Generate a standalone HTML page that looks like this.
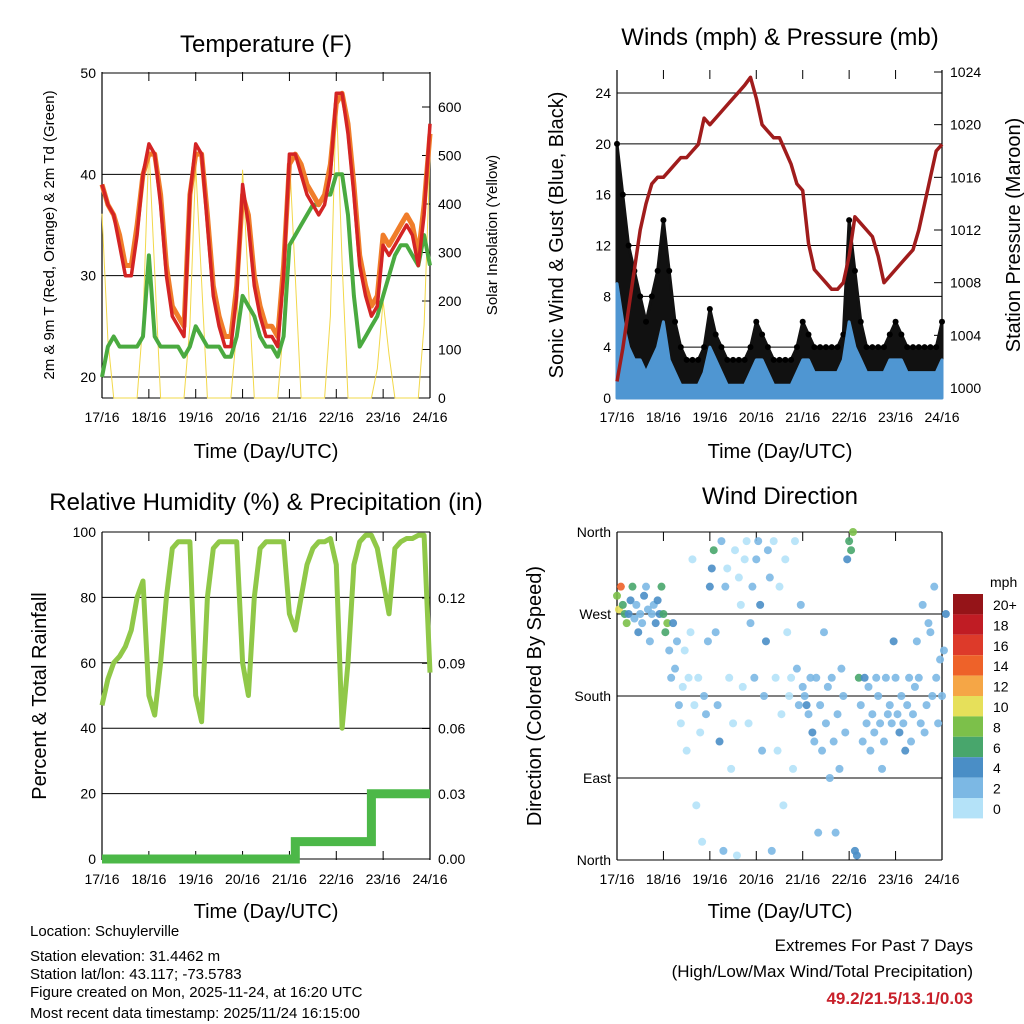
<!DOCTYPE html>
<html><head><meta charset="utf-8"><style>
html,body{margin:0;padding:0;background:#fff}
svg{display:block;font-family:"Liberation Sans",sans-serif}
</style></head><body>
<svg id="c" width="1024" height="1024" viewBox="0 0 1024 1024" xmlns="http://www.w3.org/2000/svg">
<g id="txt">
<text x="266" y="52" font-size="24" text-anchor="middle">Temperature (F)</text>
<text x="780" y="45" font-size="24" text-anchor="middle">Winds (mph) &amp; Pressure (mb)</text>
<text x="266" y="510" font-size="24" text-anchor="middle">Relative Humidity (%) &amp; Precipitation (in)</text>
<text x="780" y="504" font-size="24" text-anchor="middle">Wind Direction</text>
<text x="266" y="458" font-size="20" text-anchor="middle">Time (Day/UTC)</text>
<text x="780" y="458" font-size="20" text-anchor="middle">Time (Day/UTC)</text>
<text x="266" y="918" font-size="20" text-anchor="middle">Time (Day/UTC)</text>
<text x="780" y="918" font-size="20" text-anchor="middle">Time (Day/UTC)</text>
<text transform="translate(54,235) rotate(-90)" font-size="15" text-anchor="middle">2m &amp; 9m T (Red, Orange) &amp; 2m Td (Green)</text>
<text transform="translate(497,235) rotate(-90)" font-size="15" text-anchor="middle">Solar Insolation (Yellow)</text>
<text transform="translate(563,235) rotate(-90)" font-size="20" text-anchor="middle">Sonic Wind &amp; Gust (Blue, Black)</text>
<text transform="translate(1020,235) rotate(-90)" font-size="20" text-anchor="middle">Station Pressure (Maroon)</text>
<text transform="translate(46,696) rotate(-90)" font-size="20" text-anchor="middle">Percent &amp; Total Rainfall</text>
<text transform="translate(541,696) rotate(-90)" font-size="20" text-anchor="middle">Direction (Colored By Speed)</text>
<g font-size="15">
<text x="30" y="936">Location: Schuylerville</text>
<text x="30" y="961">Station elevation: 31.4462 m</text>
<text x="30" y="977" dy="2">Station lat/lon: 43.117; -73.5783</text>
<text x="30" y="997">Figure created on Mon, 2025-11-24, at 16:20 UTC</text>
<text x="30" y="1018">Most recent data timestamp: 2025/11/24 16:15:00</text>
</g>
<text x="973" y="951" font-size="17" text-anchor="end">Extremes For Past 7 Days</text>
<text x="973" y="977" font-size="17" text-anchor="end">(High/Low/Max Wind/Total Precipitation)</text>
<text x="973" y="1004" font-size="17" font-weight="bold" fill="#c8202a" text-anchor="end">49.2/21.5/13.1/0.03</text>
<text x="990" y="587" font-size="14">mph</text>
</g>
</svg>
<script>
const xLabels=["17/16","18/16","19/16","20/16","21/16","22/16","23/16","24/16"];
// 3-hourly samples from 17/16 to 24/16 (57 values)
const temp2m=[39,37,36,33,30,30,34,40,43,42,37,30,26,25,24,38,43,42,35,28,25,23,23,28,39,35,29,26,24,24,23,30,42,42,40,38,37,36,37,40,48,48,44,38,31,28,26,27,33,32,33,34,35,34,31,36,45];
const temp9m=[39,37,36,34,31,31,35,40,42,42,38,31,27,26,25,38,42,42,36,29,26,24,24,29,38,36,30,27,25,25,24,31,41,42,41,39,38,37,38,41,47,48,45,39,32,29,27,28,34,33,34,35,36,35,32,37,44];
const dewpt=[20,23,24,23,23,23,23,24,32,24,23,23,23,23,22,23,25,24,23,23,23,22,22,24,28,27,26,24,23,23,22,24,33,34,35,36,37,37,38,38,40,40,36,28,23,24,25,26,28,30,32,33,33,32,31,34,31];
const solar=[380,120,0,0,0,0,0,160,520,260,0,0,0,0,0,150,480,240,0,0,0,0,0,140,470,230,0,0,0,0,0,150,500,250,0,0,0,0,0,170,620,280,0,0,0,0,0,60,200,90,0,0,0,0,0,150,500];
const windSpd=[9,6,4,3,3,2,3,4,6,3,2,1,1,1,1,2,4,3,2,1,1,1,1,2,3,3,2,1,1,1,1,2,3,3,2,2,2,2,2,3,6,4,3,2,2,2,2,3,3,3,2,2,2,2,2,2,3];
const windGust=[20,16,12,10,8,6,8,10,14,10,6,4,3,3,3,4,7,5,4,3,3,3,3,4,6,5,4,3,3,3,3,4,6,5,4,4,4,4,4,5,14,10,6,4,4,4,4,5,6,5,4,4,4,4,4,4,6];
const pressure=[1000.5,1003,1006,1009,1012,1014,1015.5,1016,1016,1016.5,1017,1017.5,1017.5,1018,1018.5,1020.5,1020,1020.5,1021,1021.5,1022,1022.5,1023,1023.6,1022,1020,1019.5,1019,1019,1018,1017,1015.5,1015,1011,1009,1008.5,1008,1007.5,1007.5,1008,1010,1013,1012.5,1012,1011.5,1010,1008,1008.5,1009,1009.5,1010,1010.5,1012,1014,1016,1018,1018.5];
const rh=[47,55,60,62,65,70,80,85,50,44,60,80,95,97,97,97,50,42,80,95,97,97,97,97,60,50,80,95,97,97,97,97,75,70,80,90,95,97,97,98,90,40,60,90,97,99,99,95,85,75,95,97,98,98,99,99,57];
const precip=[0,0,0,0,0,0,0,0,0,0,0,0,0,0,0,0,0,0,0,0,0,0,0,0,0,0,0,0,0,0,0,0,0,0,0.008,0.008,0.008,0.008,0.008,0.008,0.008,0.008,0.008,0.008,0.008,0.008,0.008,0.03,0.03,0.03,0.03,0.03,0.03,0.03,0.03,0.03,0.03];
const windDir=[[290,275,300],[280,270,260],[270,285,300],[265,280,250],[270,260,290],[300,275,240],[270,280,260],[285,270,300],
[270,250,260],[230,200,260],[210,240,170],[150,190,230],[120,200,250],[330,170,60],[200,140,20],[180,160,240],
[300,320,340],[250,170,130],[350,10,300],[320,200,100],[150,340,5],[310,280,190],[330,350,150],[260,300,200],
[330,350,280],[120,180,240],[340,310,10],[350,200,120],[300,160,60],[330,250,180],[200,100,350],[210,170,280],
[190,180,170],[160,200,140],[130,200,30],[170,120,250],[150,190,90],[200,130,30],[160,100,210],[180,140,330],
[350,340,360],[10,5,200],[170,130,200],[150,190,120],[160,140,200],[180,150,100],[130,200,160],[170,150,240],
[200,160,140],[180,150,120],[170,200,130],[160,190,240],[200,150,280],[140,170,260],[250,180,300],[200,150,220],[180,230,270]];
const cbLabels=["20+","18","16","14","12","10","8","6","4","2","0"];
const cbColors=["#951418","#c01c24","#dd3a2a","#ee6229","#f5a646","#e6e05a","#7cc04a","#48a66c","#4a8ec6","#7cb8e4","#b4e2f8"];
const tempTicks=[20,30,40,50], solarTicks=[0,100,200,300,400,500,600];
const windTicks=[0,4,8,12,16,20,24], presTicks=[1000,1004,1008,1012,1016,1020,1024];
const rhTicks=[0,20,40,60,80,100], prTicks=[0,0.03,0.06,0.09,0.12];
const dirTicks=[360,270,180,90,0], dirNames=["North","West","South","East","North"];

const NS="http://www.w3.org/2000/svg", svg=document.getElementById('c');
function mk(tag,attrs,parent){const e=document.createElementNS(NS,tag);for(const k in attrs)e.setAttribute(k,attrs[k]);(parent||svg).appendChild(e);return e;}
function lin(d0,d1,r0,r1){return v=>r0+(v-d0)/(d1-d0)*(r1-r0);}
function tOf(i){return i*3/24;}
function frame(P,name){
  const g=mk('g',{});
  
  
  xLabels.forEach((l,i)=>{const x=P.x(i);
    mk('line',{x1:x,x2:x,y1:P.b,y2:P.b-9,stroke:'#000','stroke-width':1},g);
    mk('line',{x1:x,x2:x,y1:P.t,y2:P.t+9,stroke:'#000','stroke-width':1},g);
    const t=mk('text',{x:x,y:P.b+24,'font-size':14,'text-anchor':'middle'},g);t.textContent=l;
    
    });
  mk('line',{x1:P.l,x2:P.l,y1:P.t,y2:P.b,stroke:'#000','stroke-width':1.2},g);
  mk('line',{x1:P.r,x2:P.r,y1:P.t,y2:P.b,stroke:'#000','stroke-width':1.2},g);
  return g;}
function hgrid(g,P,ticks,ys,labels,side){
  ticks.forEach((v,i)=>{const y=ys(v);
    mk('line',{x1:P.l,x2:P.r,y1:y,y2:y,stroke:'#000','stroke-width':1},g);
    const t=mk('text',{x:side=='l'?P.l-6:P.r+6,y:y+5,'font-size':14,'text-anchor':side=='l'?'end':'start'},g);t.textContent=labels?labels[i]:v;
    
    });}
function rticks(g,P,ticks,ys,fmt){
  ticks.forEach(v=>{const y=ys(v);
    mk('line',{x1:P.r,x2:P.r-8,y1:y,y2:y,stroke:'#000'},g);
    const t=mk('text',{x:P.r+8,y:y+5,'font-size':14},g);t.textContent=fmt(v);
    
    });}
function poly(arr,xs,ys,st,w,name){
  const p=mk('polyline',{points:arr.map((v,i)=>xs(tOf(i)).toFixed(1)+','+ys(v).toFixed(1)).join(' '),fill:'none',stroke:st,'stroke-width':w,'stroke-linejoin':'round'});
  
  
  return p;}
function band(lo,hi,xs,ys,col,name){
  const pts=hi.map((v,i)=>xs(tOf(i)).toFixed(1)+','+ys(v).toFixed(1));
  for(let i=lo.length-1;i>=0;i--)pts.push(xs(tOf(i)).toFixed(1)+','+ys(lo[i]).toFixed(1));
  const p=mk('polygon',{points:pts.join(' '),fill:col,stroke:col,'stroke-width':3,'stroke-linejoin':'round'});
  
  }
function dots(arr,xs,ys,col,r,name){
  const g=mk('g',{fill:col});
  
  
  arr.forEach((v,i)=>{mk('circle',{cx:xs(tOf(i)),cy:ys(v),r:r},g);});}

// Panel 1 temperature
let P={l:102,r:430,t:72,b:398};P.x=lin(0,7,P.l,P.r);
let g=frame(P,'temperature-panel');
let yT=lin(20,50,377,73), yS=lin(0,600,398,107);
hgrid(g,P,tempTicks,yT,null,'l');
rticks(g,P,solarTicks,yS,v=>v);
mk('line',{x1:P.l,x2:P.r,y1:P.b,y2:P.b,stroke:'#000'},g);
poly(solar,P.x,yS,'#f2d84a',1,'solar-line');
poly(dewpt,P.x,yT,'#4aaa40',4,'dewpoint-line');
poly(temp9m,P.x,yT,'#f07d2a',5,'temp-9m-line');
poly(temp2m,P.x,yT,'#d42424',3.5,'temp-2m-line');

// Panel 2 winds
P={l:617,r:942,t:70,b:398};P.x=lin(0,7,P.l,P.r);
g=frame(P,'winds-panel');
let yW=lin(0,24,398,93), yP=lin(1000,1024,388,72);
hgrid(g,P,windTicks,yW,null,'l');
rticks(g,P,presTicks,yP,v=>v);
band(windSpd,windGust,P.x,yW,'#111','gust-band');
dots(windGust,P.x,yW,'#000',3,'gust-dots');
band(windSpd.map(()=>0),windSpd,P.x,yW,'#4f96d2','wind-speed-band');
poly(pressure,P.x,yP,'#a01c1c',3.5,'pressure-line');

// Panel 3 RH
P={l:102,r:430,t:532,b:860};P.x=lin(0,7,P.l,P.r);
g=frame(P,'rh-panel');
let yR=lin(0,100,859,532), yPr=lin(0,0.12,859,598);
hgrid(g,P,rhTicks,yR,null,'l');
rticks(g,P,prTicks,yPr,v=>v.toFixed(2));
mk('line',{x1:P.l,x2:P.r,y1:P.t,y2:P.t,stroke:'#000'},g);
poly(rh,P.x,yR,'#90c848',5,'rh-line');
const st=mk('polyline',{points:precip.map((v,i)=>{const x=P.x(tOf(i)),y=yPr(v);return (i?P.x(tOf(i-1)).toFixed(1)+','+y.toFixed(1)+' ':'')+x.toFixed(1)+','+y.toFixed(1);}).join(' '),fill:'none',stroke:'#4cb848','stroke-width':9});



// Panel 4 direction
P={l:617,r:942,t:532,b:860};P.x=lin(0,7,P.l,P.r);
g=frame(P,'direction-panel');
let yD=lin(0,360,860,532);
hgrid(g,P,dirTicks,yD,dirNames,'l');
function spdColor(s){const k=Math.min(10,Math.floor(s/2));return cbColors[10-k];}
const dg=mk('g',{});


windDir.forEach((arr,i)=>{arr.forEach((d,k)=>{
  const c=mk('circle',{cx:P.x(tOf(i)+k/24),cy:yD(d),r:4,fill:spdColor(windSpd[i]*(1+k*0.3)),opacity:0.9},dg);
  
  });});
// colorbar
const cb=mk('g',{});


cbColors.forEach((col,i)=>{const y=594+i*20.4;
  mk('rect',{x:953,y:y,width:30,height:20.4,fill:col},cb);
  const t=mk('text',{x:993,y:y+16,'font-size':14},cb);t.textContent=cbLabels[i];
  
  });
</script>
</body></html>
